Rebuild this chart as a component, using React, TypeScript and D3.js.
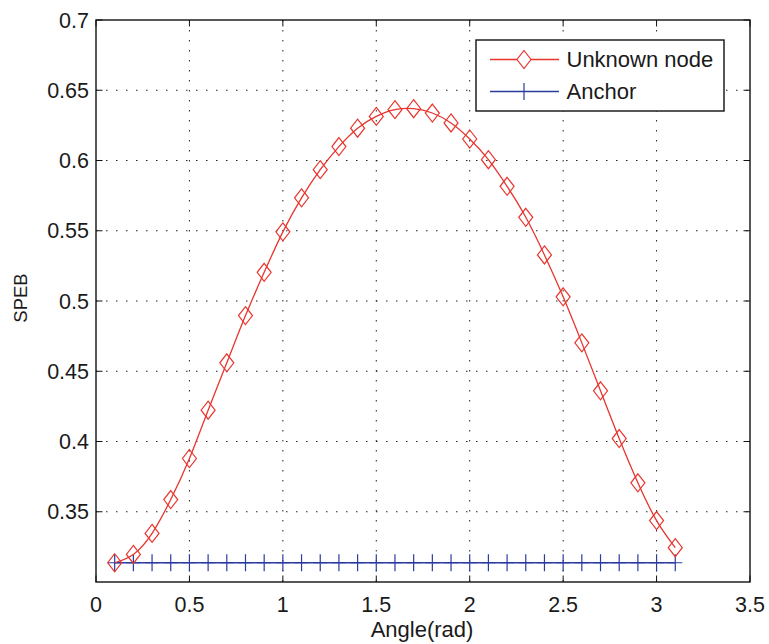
import React from "react";
import * as d3 from "d3";

const angles = [0.1,0.2,0.3,0.4,0.5,0.6,0.7,0.8,0.9,1.0,1.1,1.2,1.3,1.4,1.5,1.6,1.7,1.8,1.9,2.0,2.1,2.2,2.3,2.4,2.5,2.6,2.7,2.8,2.9,3.0,3.1];
const unknownNode = [0.3137,0.3196,0.3346,0.3587,0.3879,0.4223,0.4560,0.4896,0.5204,0.5492,0.5734,0.5935,0.6099,0.6230,0.6314,0.6362,0.6369,0.6338,0.6267,0.6153,0.6006,0.5816,0.5596,0.5328,0.5030,0.4702,0.4361,0.4021,0.3706,0.3437,0.3244];
const anchor = angles.map(() => 0.3137);
const xTicks = [0,0.5,1,1.5,2,2.5,3,3.5];
const yTicks = [0.35,0.4,0.45,0.5,0.55,0.6,0.65,0.7];
const xTickLabels = ["0","0.5","1","1.5","2","2.5","3","3.5"];
const yTickLabels = ["0.35","0.4","0.45","0.5","0.55","0.6","0.65","0.7"];
const seriesNames = ["Unknown node","Anchor"];

const RED = "#e8352e";
const BLUE = "#2a3c9e";

export default function App() {
  const L = 96, R = 750, T = 20, B = 582;
  const x = d3.scaleLinear().domain([0, 3.5]).range([L, R]);
  const y = d3.scaleLinear().domain([0.3, 0.7]).range([B, T]);
  const font = "'Liberation Sans', Arial, Helvetica, sans-serif";
  const tl = 6.5;

  const redLine = d3.line<number>().x((_, i) => x(angles[i])).y((v) => y(v)).curve(d3.curveNatural)(unknownNode) || "";
  const blueLine = d3.line<number>().x((_, i) => x(angles[i])).y((v) => y(v))(anchor) || "";

  const diamond = (cx: number, cy: number) => `M${cx},${cy - 9}L${cx + 7},${cy}L${cx},${cy + 9}L${cx - 7},${cy}Z`;
  const plus = (cx: number, cy: number) => `M${cx - 7},${cy}L${cx + 7},${cy}M${cx},${cy - 8.5}L${cx},${cy + 8.5}`;

  return (
    <svg width={769} height={644} style={{ position: "absolute", left: 0, top: 0, background: "#fff" }} fontFamily={font}>
      <rect x={0} y={0} width={769} height={644} fill="#fff" />
      {/* grid */}
      {xTicks.slice(1, -1).map((t) => (
        <line key={"gx" + t} x1={x(t)} x2={x(t)} y1={T} y2={B} stroke="#222" strokeWidth={1} strokeDasharray="1.5,8.5" />
      ))}
      {yTicks.slice(0, -1).map((t) => (
        <line key={"gy" + t} x1={L} x2={R} y1={y(t)} y2={y(t)} stroke="#222" strokeWidth={1} strokeDasharray="1.5,8.5" />
      ))}
      {/* ticks */}
      {xTicks.map((t) => (
        <g key={"tx" + t}>
          <line x1={x(t)} x2={x(t)} y1={B} y2={B - tl} stroke="#111" strokeWidth={1} />
          <line x1={x(t)} x2={x(t)} y1={T} y2={T + tl} stroke="#111" strokeWidth={1} />
        </g>
      ))}
      {yTicks.map((t) => (
        <g key={"ty" + t}>
          <line x1={L} x2={L + tl} y1={y(t)} y2={y(t)} stroke="#111" strokeWidth={1} />
          <line x1={R} x2={R - tl} y1={y(t)} y2={y(t)} stroke="#111" strokeWidth={1} />
        </g>
      ))}
      {/* data */}
      <path d={blueLine} fill="none" stroke={BLUE} strokeWidth={1.3} />
      {anchor.map((v, i) => (
        <path key={"pa" + i} d={plus(x(angles[i]), y(v))} fill="none" stroke={BLUE} strokeWidth={1.2} />
      ))}
      <path d={redLine} fill="none" stroke={RED} strokeWidth={1.3} />
      {unknownNode.map((v, i) => (
        <path key={"du" + i} d={diamond(x(angles[i]), y(v))} fill="none" stroke={RED} strokeWidth={1.2} />
      ))}
      {/* frame */}
      <rect x={L} y={T} width={R - L} height={B - T} fill="none" stroke="#111" strokeWidth={1.4} />
      {/* tick labels */}
      {xTicks.map((t, i) => (
        <text key={"lx" + t} x={x(t)} y={612} textAnchor="middle" fontSize={21.5} fill="#1a1a1a">{xTickLabels[i]}</text>
      ))}
      {yTicks.map((t, i) => (
        <text key={"ly" + t} x={89} y={y(t) + 7.5} textAnchor="end" fontSize={21.5} fill="#1a1a1a">{yTickLabels[i]}</text>
      ))}
      {/* axis labels */}
      <text x={(L + R) / 2 - 1} y={637} textAnchor="middle" fontSize={22} fill="#1a1a1a">Angle(rad)</text>
      <text transform={`translate(26.5,${(T + B) / 2 - 3}) rotate(-90)`} textAnchor="middle" fontSize={18.5} fill="#1a1a1a">SPEB</text>
      {/* legend */}
      <rect x={476} y={40} width={248} height={71} fill="#fff" stroke="#111" strokeWidth={1.4} />
      <line x1={490} x2={559} y1={59.5} y2={59.5} stroke={RED} strokeWidth={1.3} />
      <path d={diamond(524, 59.5)} fill="#fff" stroke={RED} strokeWidth={1.2} />
      <text x={566.5} y={67} fontSize={22} fill="#1a1a1a">{seriesNames[0]}</text>
      <line x1={490} x2={559} y1={91.5} y2={91.5} stroke={BLUE} strokeWidth={1.3} />
      <path d={plus(524, 91.5)} fill="none" stroke={BLUE} strokeWidth={1.2} />
      <text x={566.5} y={99} fontSize={22} fill="#1a1a1a">{seriesNames[1]}</text>
    </svg>
  );
}
